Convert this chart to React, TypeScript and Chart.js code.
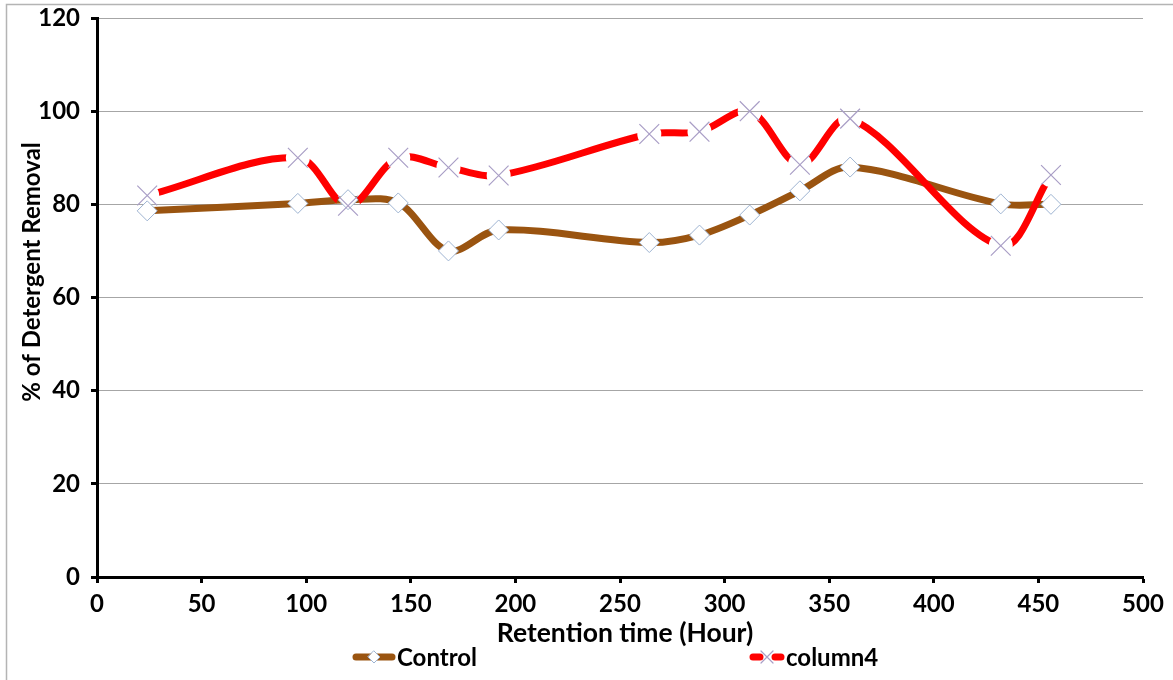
import React, { useEffect, useRef } from "react";
import { Chart, registerables } from "chart.js";

Chart.register(...registerables);

// Retention time (hours) at which each sample was taken
const hours = [24, 96, 120, 144, 168, 192, 264, 288, 312, 336, 360, 432, 456];
// % of detergent removal per series
const controlValues = [78.6, 80.2, 81.0, 80.3, 70.0, 74.5, 71.8, 73.4, 77.7, 82.9, 88.0, 80.1, 80.0];
const column4Values = [81.9, 90.0, 79.7, 90.0, 87.9, 86.2, 95.1, 95.6, 100.0, 88.5, 98.4, 71.1, 86.3];

// Axis ranges and tick spacing
const xRange = [0, 500];
const xStep = 50;
const yRange = [0, 120];
const yStep = 20;

const seriesNames = ["Control", "column4"];
const xTitle = "Retention time (Hour)";
const yTitle = "% of Detergent Removal";

const FONT = "Lato, 'Open Sans', sans-serif";
const BROWN = "#9A5410";
const RED = "#FF0000";
const DIAMOND_EDGE = "#9DB3D1";
const CROSS_EDGE = "#A99EC6";
const GAP_RADIUS = 12;
const TENSION = 0.33;

// Cuts the red line short around each cross marker, leaving a small gap
const markerGapPlugin = {
  id: "markerGap",
  beforeDatasetDraw(chart: any, args: any) {
    if (args.index !== 1) return;
    const markers = chart.getDatasetMeta(2);
    const ctx = chart.ctx;
    ctx.save();
    ctx.beginPath();
    ctx.rect(0, 0, chart.width, chart.height);
    markers.data.forEach((p: any) => {
      ctx.moveTo(p.x + GAP_RADIUS, p.y);
      ctx.arc(p.x, p.y, GAP_RADIUS, 0, Math.PI * 2);
    });
    ctx.clip("evenodd");
  },
  afterDatasetDraw(chart: any, args: any) {
    if (args.index !== 1) return;
    chart.ctx.restore();
  },
};

function drawDiamond(ctx: CanvasRenderingContext2D, x: number, y: number, r: number) {
  ctx.beginPath();
  ctx.moveTo(x, y - r);
  ctx.lineTo(x + r, y);
  ctx.lineTo(x, y + r);
  ctx.lineTo(x - r, y);
  ctx.closePath();
  ctx.fillStyle = "#fff";
  ctx.fill();
  ctx.lineWidth = 1;
  ctx.strokeStyle = DIAMOND_EDGE;
  ctx.stroke();
}

function drawCross(ctx: CanvasRenderingContext2D, x: number, y: number, r: number) {
  ctx.beginPath();
  ctx.moveTo(x - r, y - r);
  ctx.lineTo(x + r, y + r);
  ctx.moveTo(x - r, y + r);
  ctx.lineTo(x + r, y - r);
  ctx.lineWidth = 1.2;
  ctx.strokeStyle = CROSS_EDGE;
  ctx.stroke();
}

// Frame, axis titles and legend
const decorPlugin = {
  id: "decor",
  afterDraw(chart: any) {
    const ctx: CanvasRenderingContext2D = chart.ctx;
    const area = chart.chartArea;
    ctx.save();

    ctx.strokeStyle = "#B4B4B4";
    ctx.lineWidth = 1.5;
    ctx.beginPath();
    ctx.moveTo(6.5, chart.height);
    ctx.lineTo(6.5, 4.5);
    ctx.lineTo(chart.width, 4.5);
    ctx.stroke();

    ctx.fillStyle = "#000";
    ctx.textBaseline = "middle";
    ctx.textAlign = "center";
    ctx.font = `bold 26.5px ${FONT}`;
    ctx.fillText(xTitle, (area.left + area.right) / 2 + 5, 633);

    ctx.font = `bold 24px ${FONT}`;
    ctx.save();
    ctx.translate(32, 272);
    ctx.rotate(-Math.PI / 2);
    ctx.fillText(yTitle, 0, 0);
    ctx.restore();

    // Legend: Control
    const ly = 657;
    ctx.lineCap = "round";
    ctx.lineWidth = 7;
    ctx.strokeStyle = BROWN;
    ctx.beginPath();
    ctx.moveTo(356, ly);
    ctx.lineTo(392, ly);
    ctx.stroke();
    drawDiamond(ctx, 374, ly, 6);
    ctx.textAlign = "left";
    ctx.fillStyle = "#000";
    ctx.fillText(seriesNames[0], 397, ly + 1);

    // Legend: column4
    ctx.lineCap = "round";
    ctx.lineWidth = 7;
    ctx.strokeStyle = RED;
    ctx.beginPath();
    ctx.moveTo(753, ly);
    ctx.lineTo(760, ly);
    ctx.moveTo(775, ly);
    ctx.lineTo(781, ly);
    ctx.stroke();
    drawCross(ctx, 767, ly, 6);
    ctx.fillStyle = "#000";
    ctx.fillText(seriesNames[1], 786, ly + 1);

    ctx.restore();
  },
};

export default function App() {
  const canvasRef = useRef<HTMLCanvasElement | null>(null);

  useEffect(() => {
    const canvas = canvasRef.current;
    if (!canvas) return;
    const toPoints = (vals: number[]) => hours.map((h, i) => ({ x: h, y: vals[i] }));
    const tickFont = { family: FONT, size: 24, weight: "bold" as const };

    const chart = new Chart(canvas, {
      type: "line",
      data: {
        datasets: [
          {
            label: seriesNames[0],
            data: toPoints(controlValues),
            borderColor: BROWN,
            borderWidth: 7,
            tension: TENSION,
            pointStyle: "rectRot",
            pointRadius: 10,
            pointBackgroundColor: "#fff",
            pointBorderColor: DIAMOND_EDGE,
            pointBorderWidth: 1,
            order: 2,
          },
          {
            label: seriesNames[1],
            data: toPoints(column4Values),
            borderColor: RED,
            borderWidth: 7,
            tension: TENSION,
            pointRadius: 0,
            order: 1,
          },
          {
            label: seriesNames[1] + " markers",
            data: toPoints(column4Values),
            showLine: false,
            pointStyle: "crossRot",
            pointRadius: 14,
            pointBorderColor: CROSS_EDGE,
            pointBorderWidth: 1.2,
            order: 0,
          },
        ],
      },
      options: {
        animation: false,
        responsive: false,
        devicePixelRatio: 1,
        layout: { padding: { top: 18, right: 30, left: 0, bottom: 0 } },
        plugins: { legend: { display: false }, tooltip: { enabled: false } },
        scales: {
          x: {
            type: "linear",
            min: xRange[0],
            max: xRange[1],
            ticks: { stepSize: xStep, color: "#000", font: tickFont, padding: 7 },
            grid: { drawOnChartArea: false, drawTicks: true, tickColor: "#000", tickWidth: 3, tickLength: 6 },
            border: { color: "#000", width: 3 },
            afterFit: (s: any) => {
              s.height = 103;
            },
          },
          y: {
            min: yRange[0],
            max: yRange[1],
            ticks: { stepSize: yStep, color: "#000", font: tickFont, padding: 11 },
            grid: { color: "#A6A6A6", lineWidth: 1, drawTicks: true, tickColor: "#000", tickWidth: 3, tickLength: 6 },
            border: { color: "#000", width: 3 },
            afterFit: (s: any) => {
              s.width = 97;
              s.paddingTop = 0;
              s.paddingBottom = 0;
            },
          },
        },
      },
      plugins: [markerGapPlugin, decorPlugin],
    });
    return () => chart.destroy();
  }, []);

  return (
    <div style={{ position: "fixed", left: 0, top: 0, width: 1173, height: 680, background: "#fff" }}>
      <canvas ref={canvasRef} width={1173} height={680} />
    </div>
  );
}
